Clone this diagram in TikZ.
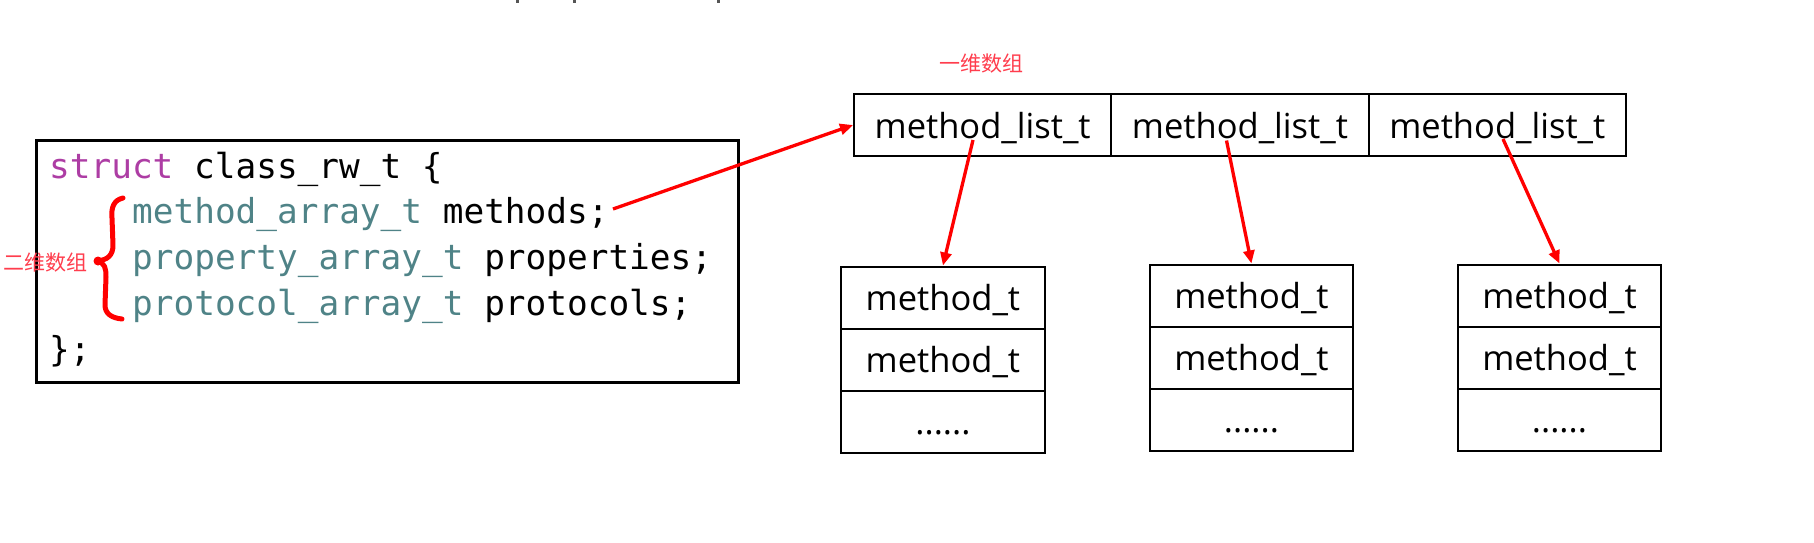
\documentclass[tikz,border=0pt]{standalone}
\usepackage{fontspec}
\setmainfont{Open Sans}
\newfontfamily\cjk{Noto Sans CJK SC}
\newfontfamily\codefont{DejaVu Sans Mono}
\usetikzlibrary{arrows.meta}
\definecolor{kw}{HTML}{AD3DA4}
\definecolor{ty}{HTML}{4F8387}
\definecolor{lab}{HTML}{FF3D4D}
\definecolor{frag}{HTML}{555555}
\begin{document}
\begin{tikzpicture}[x=1pt,y=-1pt,
  cell/.style={draw, line width=2pt, inner sep=0pt, anchor=north west,
    minimum height=62pt, text height=30pt, text depth=4pt,
    font=\fontsize{34.5}{40}\selectfont},
  topcell/.style={cell, minimum width=257.3pt},
  colcell/.style={cell, minimum width=203.5pt},
  code/.style={anchor=base west, inner sep=0pt,
    font=\codefont\fontsize{34.4}{40}\selectfont},
  labeltext/.style={text=lab, inner sep=0pt,
    font=\cjk\fontsize{21}{24}\selectfont},
  arr/.style={draw=red, line width=3.3pt, -{Triangle[length=13pt,width=11pt]}},
  bracestyle/.style={draw=red, line width=5pt, line cap=round, line join=round}]
\useasboundingbox (0,0) rectangle (1814,542);

% cut-off fragments at the top edge
\fill[frag] (516,0) rectangle (519,3.3);
\fill[frag] (573,0) rectangle (576,3.3);
\fill[frag] (717,0) rectangle (720,3.3);

% code box
\node[draw, line width=2.5pt, minimum width=702pt, minimum height=242pt,
  inner sep=0pt, anchor=north west] (codebox) at (35,139) {};
\node[code] (l1) at (49,178) {\textcolor{kw}{struct} class\_rw\_t \{};
\node[code] (l2) at (132,223.8) {\textcolor{ty}{method\_array\_t} methods;};
\node[code] (l3) at (132,269.6) {\textcolor{ty}{property\_array\_t} properties;};
\node[code] (l4) at (132,315.4) {\textcolor{ty}{protocol\_array\_t} protocols;};
\node[code] (l5) at (49,361.2) {\};};

% brace
\draw[bracestyle] (123,198) .. controls (114,200) and (111,207) .. (112,218)
  -- (113,245) .. controls (113,255) and (108,260) .. (97,261);
\draw[bracestyle] (97,261) .. controls (105,263) and (106,268) .. (106,277)
  -- (105,305) .. controls (105,314) and (112,318) .. (122,319);
\fill[red] (98,261) circle (4.5);

\node[labeltext] (lab2) at (45,263) {二维数组};
\node[labeltext] (lab1) at (981,64) {一维数组};

% one-dimensional array
\node[topcell] (ml1) at (853,93) {method\_list\_t};
\node[topcell] (ml2) at (1110.3,93) {method\_list\_t};
\node[topcell] (ml3) at (1367.7,93) {method\_list\_t};

% method_t columns
\node[colcell] (a1) at (840.2,265.5) {method\_t};
\node[colcell] (a2) at (840.2,327.5) {method\_t};
\node[colcell] (a3) at (840.2,389.5) {......};
\node[colcell] (b1) at (1148.7,263.5) {method\_t};
\node[colcell] (b2) at (1148.7,325.5) {method\_t};
\node[colcell] (b3) at (1148.7,387.5) {......};
\node[colcell] (c1) at (1456.7,263.5) {method\_t};
\node[colcell] (c2) at (1456.7,325.5) {method\_t};
\node[colcell] (c3) at (1456.7,387.5) {......};

% arrows
\coordinate (ms) at (613,209);
\coordinate (s1) at (973,140);
\coordinate (s2) at (1226.5,140.5);
\coordinate (s3) at (1503,139);
\draw[arr] (ms) -- (ml1.west);
\draw[arr] (s1) -- (a1.north);
\draw[arr] (s2) -- (b1.north);
\draw[arr] (s3) -- (c1.north);
\end{tikzpicture}
\end{document}
